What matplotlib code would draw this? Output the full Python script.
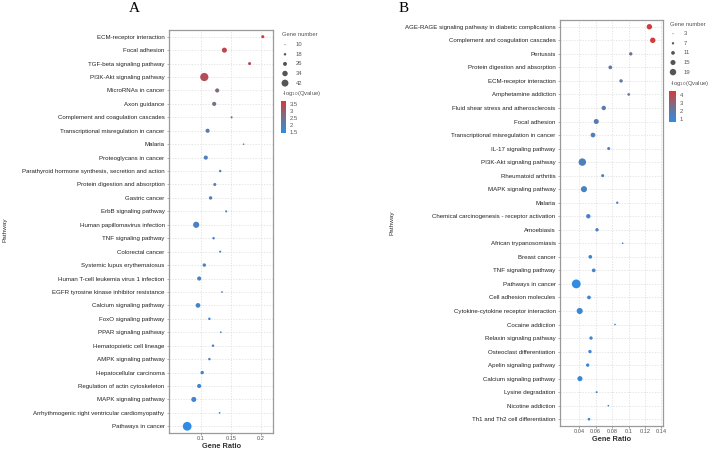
"""KEGG enrichment bubble charts, panels A and B."""

import matplotlib.pyplot as plt
from matplotlib.colorbar import ColorbarBase
from matplotlib.colors import LinearSegmentedColormap, Normalize
from matplotlib.ticker import FuncFormatter

plt.rcParams["font.family"] = ["Liberation Sans", "DejaVu Sans"]

W, H = 708, 450  # figure size in pixels (dpi 100)

# ---------------- data: panel A ----------------
pathways_a = [
    "ECM-receptor interaction", "Focal adhesion", "TGF-beta signaling pathway",
    "PI3K-Akt signaling pathway", "MicroRNAs in cancer", "Axon guidance",
    "Complement and coagulation cascades", "Transcriptional misregulation in cancer",
    "Malaria", "Proteoglycans in cancer",
    "Parathyroid hormone synthesis, secretion and action",
    "Protein digestion and absorption", "Gastric cancer", "ErbB signaling pathway",
    "Human papillomavirus infection", "TNF signaling pathway", "Colorectal cancer",
    "Systemic lupus erythematosus", "Human T-cell leukemia virus 1 infection",
    "EGFR tyrosine kinase inhibitor resistance", "Calcium signaling pathway",
    "FoxO signaling pathway", "PPAR signaling pathway", "Hematopoietic cell lineage",
    "AMPK signaling pathway", "Hepatocellular carcinoma",
    "Regulation of actin cytoskeleton", "MAPK signaling pathway",
    "Arrhythmogenic right ventricular cardiomyopathy", "Pathways in cancer",
]
ratio_a = [0.203, 0.139, 0.181, 0.1055, 0.127, 0.122, 0.151, 0.111, 0.171, 0.108,
           0.132, 0.123, 0.116, 0.142, 0.092, 0.121, 0.132, 0.1055, 0.097, 0.135,
           0.095, 0.114, 0.133, 0.120, 0.114, 0.102, 0.097, 0.088, 0.131, 0.077]
genes_a = [21, 32, 21, 49, 27, 27, 16, 27, 13, 27,
           18, 21, 23, 16, 38, 18, 16, 23, 27, 14,
           30, 18, 14, 18, 18, 23, 27, 32, 14, 52]
qlog_a = [3.7, 3.45, 3.4, 3.3, 2.7, 2.6, 2.3, 2.1, 2.4, 2.0,
          2.0, 2.0, 1.95, 1.95, 1.9, 1.9, 1.9, 1.85, 1.85, 1.85,
          1.8, 1.8, 1.8, 1.8, 1.75, 1.75, 1.7, 1.7, 1.7, 1.45]
size_breaks_a = [10, 18, 26, 34, 42]
color_ticks_a = [1.5, 2, 2.5, 3, 3.5]
ratio_ticks_a = [0.1, 0.15, 0.2]

# ---------------- data: panel B ----------------
pathways_b = [
    "AGE-RAGE signaling pathway in diabetic complications",
    "Complement and coagulation cascades", "Pertussis",
    "Protein digestion and absorption", "ECM-receptor interaction",
    "Amphetamine addiction", "Fluid shear stress and atherosclerosis", "Focal adhesion",
    "Transcriptional misregulation in cancer", "IL-17 signaling pathway",
    "PI3K-Akt signaling pathway", "Rheumatoid arthritis", "MAPK signaling pathway",
    "Malaria", "Chemical carcinogenesis - receptor activation", "Amoebiasis",
    "African trypanosomiasis", "Breast cancer", "TNF signaling pathway",
    "Pathways in cancer", "Cell adhesion molecules",
    "Cytokine-cytokine receptor interaction", "Cocaine addiction",
    "Relaxin signaling pathway", "Osteoclast differentiation", "Apelin signaling pathway",
    "Calcium signaling pathway", "Lysine degradation", "Nicotine addiction",
    "Th1 and Th2 cell differentiation",
]
ratio_b = [0.1254, 0.1295, 0.1027, 0.0778, 0.0909, 0.1002, 0.0698, 0.0607, 0.0567, 0.0758,
           0.0437, 0.0685, 0.0457, 0.0863, 0.0510, 0.0616, 0.0929, 0.0534, 0.0576, 0.0363,
           0.0518, 0.0405, 0.0835, 0.0543, 0.0530, 0.0502, 0.0408, 0.0612, 0.0754, 0.0518]
genes_b = [16, 16, 10, 11, 10, 8, 13, 15, 14, 9,
           22, 9, 18, 7, 13, 10, 5, 11, 11, 26,
           11, 18, 5, 10, 10, 10, 15, 6, 5, 8]
qlog_b = [4.3, 4.5, 2.3, 2.0, 2.0, 1.9, 1.8, 1.7, 1.6, 1.6,
          1.5, 1.5, 1.4, 1.4, 1.3, 1.3, 1.3, 1.2, 1.2, 0.7,
          1.1, 1.0, 1.1, 1.0, 1.0, 0.95, 0.9, 0.9, 0.9, 0.85]
size_breaks_b = [3, 7, 11, 15, 19]
color_ticks_b = [1, 2, 3, 4]
ratio_ticks_b = [0.04, 0.06, 0.08, 0.1, 0.12, 0.14]

CMAP = LinearSegmentedColormap.from_list(
    "bluered", [(0.0, "#2e8ce6"), (0.5, "#75708c"), (1.0, "#d63a3a")]
)


def box(left, top, right, bottom):
    """Pixel box -> figure fraction rect."""
    return [left / W, 1 - bottom / H, (right - left) / W, (bottom - top) / H]


def marker_area(count, cmin, slope):
    """Gene count -> scatter area in pt^2 (diameter linear in count)."""
    d_px = max(0.8, 1.0 + (count - cmin) * slope)
    return (d_px * 0.72) ** 2


fig = plt.figure(figsize=(W / 100, H / 100), dpi=100, facecolor="white")

# overlay in pixel coordinates for legends / labels
over = fig.add_axes([0, 0, 1, 1], zorder=5)
over.set_xlim(0, W)
over.set_ylim(H, 0)
over.axis("off")

panels = [
    dict(names=pathways_a, ratio=ratio_a, genes=genes_a, qlog=qlog_a,
         rect=(169, 30, 273, 433), xlim=(0.0467, 0.22), xticks=ratio_ticks_a,
         norm=Normalize(1.43, 3.71), cmin=10, slope=0.185,
         breaks=size_breaks_a, cticks=color_ticks_a,
         leg_x=282, leg_y=35, cbar=(281, 101, 286, 133),
         ylab=(5, 230), xlab=(222, 446.5), letter=(134, 9), tag="A"),
    dict(names=pathways_b, ratio=ratio_b, genes=genes_b, qlog=qlog_b,
         rect=(560, 20, 663, 426), xlim=(0.0165, 0.142), xticks=ratio_ticks_b,
         norm=Normalize(0.62, 4.5), cmin=3, slope=0.34,
         breaks=size_breaks_b, cticks=color_ticks_b,
         leg_x=670, leg_y=24, cbar=(669, 91, 676, 122),
         ylab=(392, 223), xlab=(612, 439.5), letter=(404, 9), tag="B"),
]

for p in panels:
    ax = fig.add_axes(box(*p["rect"]))
    n = len(p["names"])
    rows = list(range(n))
    sizes = [marker_area(g, p["cmin"], p["slope"]) for g in p["genes"]]
    ax.scatter(p["ratio"], rows, s=sizes, c=p["qlog"], cmap=CMAP, norm=p["norm"],
               edgecolors="none", zorder=3)

    ax.set_ylim(n - 0.5, -0.5)
    ax.set_xlim(*p["xlim"])
    ax.set_yticks(rows)
    ax.set_yticklabels(p["names"], fontsize=4.4, color="#222222")
    ax.set_xticks(p["xticks"])
    ax.xaxis.set_major_formatter(FuncFormatter(lambda v, _: f"{v:g}"))
    ax.tick_params(axis="x", labelsize=4.1, colors="#555555", length=1.2, pad=1.2,
                   width=0.4)
    ax.tick_params(axis="y", length=1.2, pad=2, width=0.4, colors="#777777",
                   labelcolor="#222222")

    ax.grid(True, color="#dcdcdc", linestyle=(0, (2, 2)), linewidth=0.5)
    ax.set_axisbelow(True)
    for spine in ax.spines.values():
        spine.set_color("#9a9a9a")
        spine.set_linewidth(0.9)

    # axis titles
    over.text(*p["xlab"], "Gene Ratio", fontsize=5.3, fontweight="bold",
              color="#333333", ha="center", va="center")
    over.text(*p["ylab"], "Pathway", fontsize=4.6, color="#333333",
              rotation=90, ha="center", va="center")
    over.text(*p["letter"], p["tag"], fontsize=11, family="Liberation Serif",
              color="black", ha="center", va="center")

    # size legend
    lx, ly = p["leg_x"], p["leg_y"]
    over.text(lx, ly, "Gene number", fontsize=4.2, color="#555555",
              ha="left", va="center")
    for k, b in enumerate(p["breaks"]):
        yy = ly + 9.7 + k * 9.6
        over.scatter(lx + 3, yy, s=marker_area(b, p["cmin"], p["slope"]),
                     color="#555555", edgecolors="none")
        over.text(lx + 14, yy, str(b), fontsize=4.2, color="#555555",
                  ha="left", va="center")

    # colour legend
    cl, ct, cr, cb = p["cbar"]
    over.text(lx, ct - 7, r"-log$_{10}$(Qvalue)", fontsize=4.2, color="#555555",
              ha="left", va="center")
    cax = fig.add_axes(box(cl, ct, cr, cb), zorder=6)
    cbar = ColorbarBase(cax, cmap=CMAP, norm=p["norm"], ticks=p["cticks"])
    cbar.outline.set_visible(False)
    cax.tick_params(labelsize=4.2, labelcolor="#555555", length=1.2, width=0.4,
                    color="white", pad=1.5)
    cax.yaxis.set_major_formatter(FuncFormatter(lambda v, _: f"{v:g}"))

fig.savefig("out.png", dpi=100, facecolor="white")
